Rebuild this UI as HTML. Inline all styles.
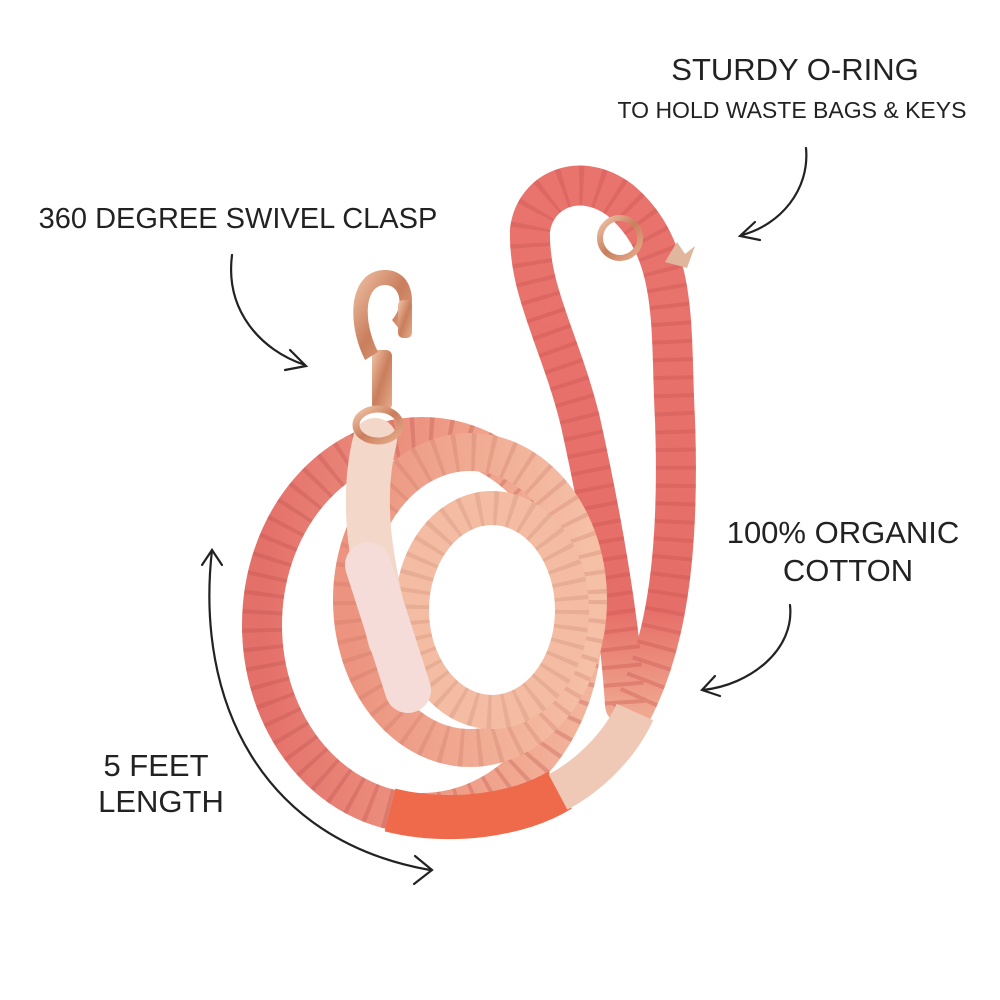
<!DOCTYPE html>
<html><head><meta charset="utf-8"><style>
html,body{margin:0;padding:0;background:#fff}
svg{display:block}
text{font-family:"Liberation Sans",sans-serif;fill:#222;font-weight:300}
</style></head><body>
<svg width="1000" height="1000" viewBox="0 0 1000 1000" xmlns="http://www.w3.org/2000/svg">
<defs>
<linearGradient id="g1" x1="0" y1="0" x2="1" y2="0">
<stop offset="0" stop-color="#e4706a"/><stop offset="0.6" stop-color="#ef9c86"/><stop offset="1" stop-color="#f3b49c"/></linearGradient>
<linearGradient id="g2" x1="0" y1="0" x2="1" y2="0">
<stop offset="0" stop-color="#ec947f"/><stop offset="1" stop-color="#f5c0a6"/></linearGradient>
<linearGradient id="g3" x1="0" y1="0" x2="0" y2="1">
<stop offset="0" stop-color="#e9736d"/><stop offset="0.8" stop-color="#e66e68"/><stop offset="1" stop-color="#f0a990"/></linearGradient>
<linearGradient id="gold" x1="0" y1="0" x2="1" y2="1">
<stop offset="0" stop-color="#f1c5a8"/><stop offset="0.5" stop-color="#c97e5d"/><stop offset="1" stop-color="#e8ad8c"/></linearGradient>
</defs>

<text x="795" y="80" font-size="31" text-anchor="middle">STURDY O-RING</text>
<text x="792" y="118" font-size="23" text-anchor="middle">TO HOLD WASTE BAGS &amp; KEYS</text>
<text x="238" y="228" font-size="29" text-anchor="middle">360 DEGREE SWIVEL CLASP</text>
<text x="843" y="543" font-size="31" text-anchor="middle">100% ORGANIC</text>
<text x="848" y="581" font-size="31" text-anchor="middle">COTTON</text>
<text x="156" y="776" font-size="31" text-anchor="middle">5 FEET</text>
<text x="161" y="812" font-size="31" text-anchor="middle">LENGTH</text>

<g fill="none" stroke="#222" stroke-width="2.2" stroke-linecap="round">
<path d="M232 255 C225 310 260 350 305 365"/><path d="M290 350 L306 366 L285 370"/>
<path d="M806 148 C810 190 780 225 742 235"/><path d="M755 222 L740 236 L760 240"/>
<path d="M790 605 C795 650 750 685 703 690"/><path d="M715 676 L702 690 L720 696"/>
<path d="M212 550 C195 700 260 840 430 870"/><path d="M202 565 L212 550 L222 565"/><path d="M415 856 L432 870 L414 884"/>
</g>

<path id="h" d="M630 715 C665 650 680 560 675 420 C670 330 680 250 620 200 C580 170 535 190 530 230 C528 290 560 340 580 420 C600 510 620 620 625 705" fill="none" stroke="url(#g3)" stroke-width="40" stroke-linecap="round"/>
<path d="M630 715 C665 650 680 560 675 420 C670 330 680 250 620 200 C580 170 535 190 530 230 C528 290 560 340 580 420 C600 510 620 620 625 705" fill="none" stroke="#c9524f" stroke-opacity="0.35" stroke-width="40" stroke-dasharray="4 14"/>
<circle cx="620" cy="238" r="20" fill="none" stroke="url(#gold)" stroke-width="6"/>
<path d="M665 262 l12 -20 l8 12 l10 -8 l-8 22 z" fill="#e0b79c"/>

<ellipse cx="422" cy="625" rx="160" ry="188" fill="none" stroke="url(#g1)" stroke-width="40"/>
<ellipse cx="422" cy="625" rx="160" ry="188" fill="none" stroke="#b8504d" stroke-opacity="0.3" stroke-width="40" stroke-dasharray="4 14"/>
<ellipse cx="470" cy="600" rx="118" ry="148" fill="none" stroke="url(#g2)" stroke-width="38"/>
<ellipse cx="470" cy="600" rx="118" ry="148" fill="none" stroke="#c47060" stroke-opacity="0.25" stroke-width="38" stroke-dasharray="4 14"/>
<ellipse cx="492" cy="610" rx="80" ry="102" fill="none" stroke="#f3bca3" stroke-width="34"/>
<ellipse cx="492" cy="610" rx="80" ry="102" fill="none" stroke="#c8806a" stroke-opacity="0.25" stroke-width="34" stroke-dasharray="4 12"/>

<path d="M375 440 C360 500 370 560 390 640" fill="none" stroke="#f3d7c9" stroke-width="44" stroke-linecap="round"/>
<path d="M368 565 L408 690" stroke="#f6dcd8" stroke-width="46" stroke-linecap="round"/>
<path d="M390 810 C450 825 520 815 560 790" fill="none" stroke="#ef6a4b" stroke-width="44"/>
<path d="M558 792 C590 775 620 745 635 712" fill="none" stroke="#f0c9b6" stroke-width="40"/>

<g fill="url(#gold)">
<rect x="372" y="350" width="20" height="60" rx="6"/>
<ellipse cx="378" cy="425" rx="22" ry="16" fill="none" stroke="url(#gold)" stroke-width="7"/>
<path d="M365 360 C345 320 350 270 385 270 C415 270 420 310 400 330 L392 320 C405 305 400 285 385 285 C365 285 362 320 378 352 Z"/>
<rect x="398" y="300" width="14" height="38" rx="5"/>
</g>
</svg>
</body></html>
